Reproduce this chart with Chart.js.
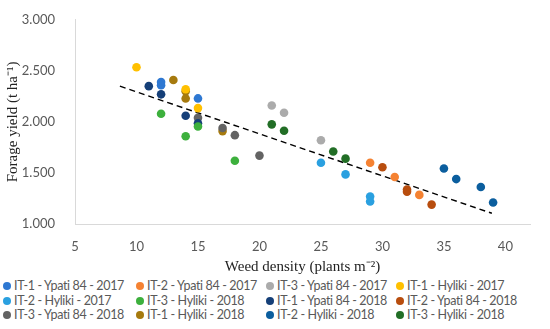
<!DOCTYPE html>
<html>
<head>
<meta charset="utf-8">
<script src="https://cdn.jsdelivr.net/npm/chart.js@4"></script>
<style>
  body { margin: 0; background: #fff; }
  #wrap { position: relative; width: 550px; height: 329px; }
  #chart { position: absolute; left: 0; top: 0; }
  #legend {
    position: absolute; left: 3px; top: 279px;
    display: grid; grid-template-columns: 133px 130px 130px 150px;
    font-family: Lato, "Open Sans", sans-serif; font-size: 12.5px; color: #595959;
    letter-spacing: -0.35px; line-height: 14.6px; white-space: nowrap;
  }
  #legend span.dot {
    display: inline-block; width: 8px; height: 8px; border-radius: 50%;
    margin-right: 3px;
  }
</style>
</head>
<body>
<div id="wrap">
  <canvas id="chart" width="550" height="276"></canvas>
  <div id="legend"></div>
</div>
<script>
// Series names and colours (legend order)
const seriesNames = [
    "IT-1 - Ypati 84 - 2017", "IT-2 - Ypati 84 - 2017", "IT-3 - Ypati 84 - 2017", "IT-1 - Hyliki - 2017",
    "IT-2 - Hyliki - 2017", "IT-3 - Hyliki - 2018", "IT-1 - Ypati 84 - 2018", "IT-2 - Ypati 84 - 2018",
    "IT-3 - Ypati 84 - 2018", "IT-1 - Hyliki - 2018", "IT-2 - Hyliki - 2018", "IT-3 - Hyliki - 2018"
];
const seriesColors = [
    "#2E78D2", "#F58232", "#ABABAB", "#FFC000",
    "#2AA0E0", "#3DB03D", "#153F78", "#B84D0E",
    "#636363", "#A67A0E", "#0B5E9E", "#226E26"
];

// Weed density (x) and forage yield (y) per series
const weedDensity = [
    [12, 12, 15],
    [29, 31, 33],
    [21, 22, 25],
    [10, 14, 15],
    [25, 27, 29, 29],
    [12, 14, 15, 18],
    [11, 12, 14, 15],
    [30, 32, 32, 34],
    [15, 17, 18, 20],
    [13, 14, 14, 17],
    [35, 36, 38, 39],
    [21, 22, 26, 27]
];
const forageYield = [
    [2.39, 2.36, 2.23],
    [1.60, 1.46, 1.285],
    [2.16, 2.09, 1.82],
    [2.535, 2.32, 2.135],
    [1.60, 1.486, 1.27, 1.22],
    [2.08, 1.86, 1.955, 1.62],
    [2.35, 2.27, 2.06, 1.986],
    [1.556, 1.338, 1.316, 1.19],
    [2.04, 1.94, 1.87, 1.67],
    [2.41, 2.30, 2.23, 1.91],
    [1.543, 1.44, 1.363, 1.21],
    [1.976, 1.913, 1.71, 1.64]
];

// Linear trend line endpoints
const trendX = [8.65, 38.9];
const trendY = [2.35, 1.105];

const yTicks = [1, 1.5, 2, 2.5, 3];

const datasets = seriesNames.map((name, i) => ({
    label: name,
    data: weedDensity[i].map((x, j) => ({ x: x, y: forageYield[i][j] })),
    backgroundColor: seriesColors[i],
    borderColor: seriesColors[i],
    pointRadius: 4.3,
    pointHoverRadius: 4.3,
    borderWidth: 0,
}));

datasets.push({
    label: "Trend",
    type: "line",
    data: trendX.map((x, j) => ({ x: x, y: trendY[j] })),
    borderColor: "#000",
    borderWidth: 1.4,
    borderDash: [6, 4],
    pointRadius: 0,
    fill: false,
});

const ctx = document.getElementById("chart").getContext("2d");
new Chart(ctx, {
    type: "scatter",
    data: { datasets: datasets },
    options: {
        responsive: false,
        animation: false,
        layout: { padding: { left: 0, right: 20, top: 13, bottom: 0 } },
        plugins: {
            legend: { display: false },
            tooltip: { enabled: false },
        },
        scales: {
            x: {
                type: "linear",
                min: 5,
                max: 42,
                grid: { display: false },
                border: { color: "#D9D9D9", width: 1 },
                afterBuildTicks: (s) => { s.ticks = s.ticks.filter(t => t.value <= 40); },
                ticks: {
                    stepSize: 5,
                    padding: 7,
                    color: "#595959",
                    font: { family: "Lato, 'Open Sans', sans-serif", size: 13 },
                },
                title: {
                    display: true,
                    text: "Weed density (plants m\u207B\u00B2)",
                    color: "#222",
                    font: { family: "'Liberation Serif', serif", size: 15 },
                    padding: { top: 2, bottom: 0 },
                },
                afterFit: (s) => { s.height = 52; },
            },
            y: {
                min: 1,
                max: 3,
                grid: { display: false },
                border: { color: "#D9D9D9", width: 1 },
                afterBuildTicks: (s) => { s.ticks = yTicks.map(v => ({ value: v })); },
                ticks: {
                    padding: 12,
                    color: "#595959",
                    font: { family: "Lato, 'Open Sans', sans-serif", size: 13 },
                    callback: (v) => v.toFixed(3),
                },
                title: {
                    display: true,
                    text: "Forage yield (t ha\u207B\u00B9)",
                    color: "#222",
                    font: { family: "'Liberation Serif', serif", size: 15 },
                    padding: { top: 4, bottom: 0 },
                },
                afterFit: (s) => { s.width = 75; },
            },
        },
    },
});

// HTML legend laid out in 4 columns like the original
const legend = document.getElementById("legend");
seriesNames.forEach((name, i) => {
    const item = document.createElement("div");
    item.innerHTML = '<span class="dot" style="background:' + seriesColors[i] + '"></span>' + name;
    legend.appendChild(item);
});
</script>
</body>
</html>
